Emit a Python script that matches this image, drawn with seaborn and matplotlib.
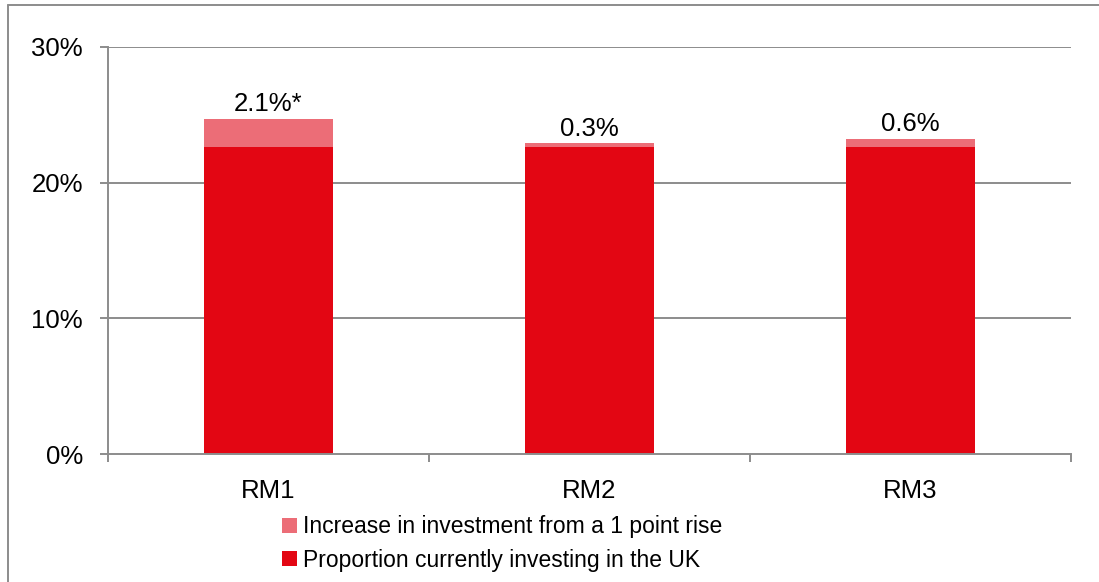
import matplotlib
matplotlib.use("Agg")
import matplotlib.pyplot as plt
import seaborn as sns
import pandas as pd
from matplotlib.patches import Patch
from matplotlib.lines import Line2D

categories = ["RM1", "RM2", "RM3"]
base_values = [22.6, 22.6, 22.6]
increase_values = [2.1, 0.3, 0.6]
bar_labels = ["2.1%*", "0.3%", "0.6%"]
series_names = ["Increase in investment from a 1 point rise",
                "Proportion currently investing in the UK"]
y_ticks = [0, 10, 20, 30]
y_tick_labels = ["0%", "10%", "20%", "30%"]

dark_red = "#E30613"
light_red = "#EC6D77"
grey = "#8C8C8C"

sns.set_theme(style="white")
plt.rcParams['font.family'] = ['Liberation Sans', 'DejaVu Sans']
plt.rcParams['text.color'] = 'black'
plt.rcParams['xtick.labelcolor'] = 'black'
plt.rcParams['ytick.labelcolor'] = 'black'

df = pd.DataFrame({
    "cat": categories,
    "base": base_values,
    "total": [b + i for b, i in zip(base_values, increase_values)],
})

fig = plt.figure(figsize=(10.99, 5.82), dpi=100)
ax = fig.add_axes([108/1099, 1 - 454/582, (1071-108)/1099, (454-47)/582])

sns.barplot(data=df, x="cat", y="total", color=light_red, saturation=1,
            width=0.4, ax=ax, edgecolor="none", linewidth=0)
sns.barplot(data=df, x="cat", y="base", color=dark_red, saturation=1,
            width=0.4, ax=ax, edgecolor="none", linewidth=0)

ax.set_xlim(-0.5, 2.5)
ax.set_ylim(0, 30)
ax.set_yticks(y_ticks)
ax.set_yticklabels(y_tick_labels, fontsize=18.5)
ax.set_xticks(range(len(categories)))
ax.set_xticklabels(categories, fontsize=18.5)
ax.set_xlabel("")
ax.set_ylabel("")

for y in y_ticks[1:]:
    ax.axhline(y, color=grey, lw=1.4, zorder=0)

for s in ["top", "right"]:
    ax.spines[s].set_visible(False)
for s in ["left", "bottom"]:
    ax.spines[s].set_color(grey)
    ax.spines[s].set_linewidth(1.4)

ax.tick_params(axis="y", which="major", left=True, length=6, width=1.4,
               color=grey, pad=12, labelcolor="black")
ax.tick_params(axis="x", which="major", bottom=False, pad=12, labelcolor="black")
ax.set_xticks([-0.5, 0.5, 1.5, 2.5], minor=True)
ax.tick_params(axis="x", which="minor", bottom=True, length=6, width=1.4, color=grey)
ax.set_axisbelow(True)

for i, (t, lab) in enumerate(zip(df["total"], bar_labels)):
    ax.annotate(lab, (i, t), xytext=(0, 2), textcoords="offset points",
                ha="center", va="bottom", fontsize=18.5, color="black")

handles = [Patch(facecolor=light_red, edgecolor="none"),
           Patch(facecolor=dark_red, edgecolor="none")]
leg = fig.legend(handles, series_names, loc="upper left",
                 bbox_to_anchor=(271/1099, 1 - 504/582), frameon=False,
                 fontsize=16.5, handlelength=0.65, handleheight=0.65,
                 handletextpad=0.25, labelspacing=0.45, borderpad=0)
for t in leg.get_texts():
    t.set_color("black")

fig.add_artist(Line2D([8/1099, 8/1099], [0, 1 - 5/582], color=grey, lw=1.4,
                      transform=fig.transFigure))
fig.add_artist(Line2D([8/1099, 1], [1 - 5/582, 1 - 5/582], color=grey, lw=1.4,
                      transform=fig.transFigure))

fig.savefig("out.png", dpi=100)
